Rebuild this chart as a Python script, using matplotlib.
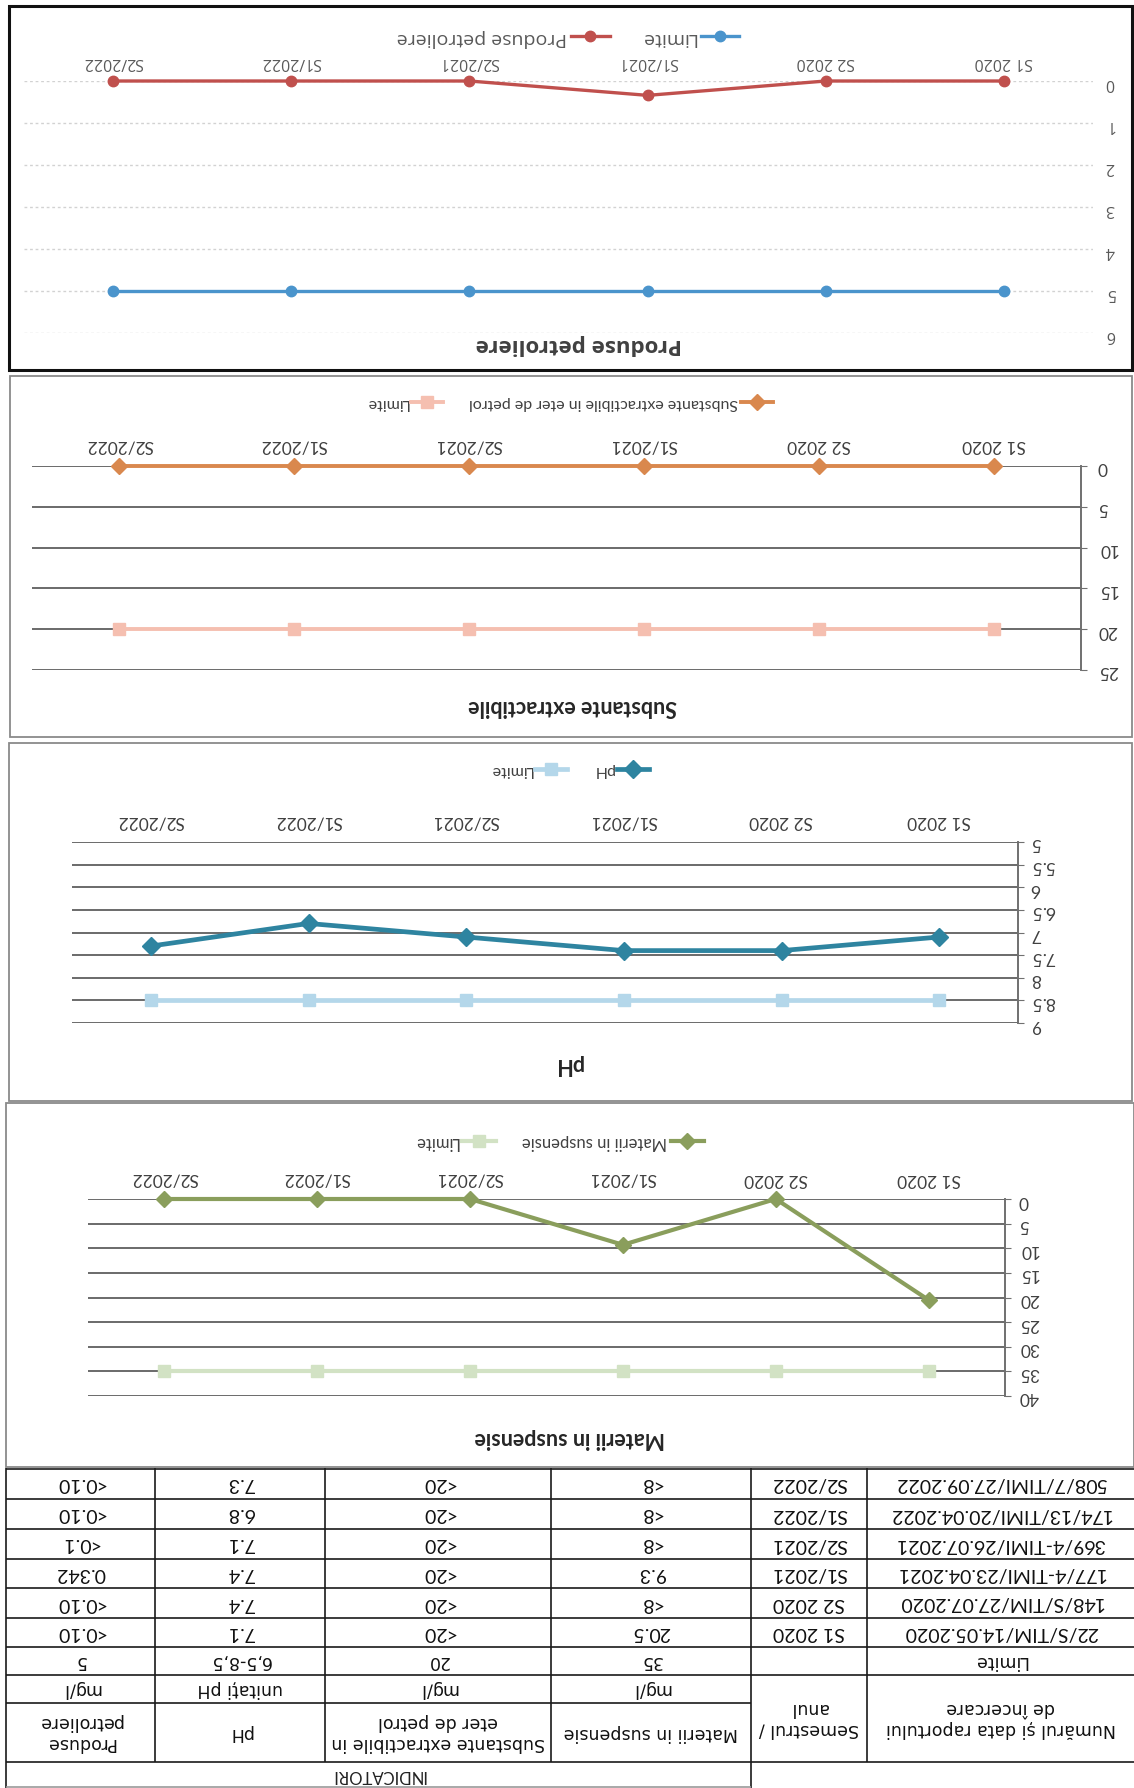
import matplotlib.pyplot as plt
from matplotlib.patches import Rectangle

W, H = 1134, 1788

categories = ['S1 2020', 'S2 2020', 'S1/2021', 'S2/2021', 'S1/2022', 'S2/2022']

produse = [0, 0, 0.342, 0, 0, 0]
produse_limita = [5, 5, 5, 5, 5, 5]
substante = [0, 0, 0, 0, 0, 0]
substante_limita = [20, 20, 20, 20, 20, 20]
ph = [7.1, 7.4, 7.4, 7.1, 6.8, 7.3]
ph_limita = [8.5, 8.5, 8.5, 8.5, 8.5, 8.5]
materii = [20.5, 0, 9.3, 0, 0, 0]
materii_limita = [35, 35, 35, 35, 35, 35]

# table of the scanned report
rapoarte = ['22/S/TIM/14.05.2020', '148/S/TIM/27.07.2020', '177/4-TIMI/23.04.2021',
            '369/4-TIMI/26.07.2021', '174/13/TIMI/20.04.2022', '508/7/TIMI/27.09.2022']
col_materii = ['20.5', '<8', '9.3', '<8', '<8', '<8']
col_substante = ['<20', '<20', '<20', '<20', '<20', '<20']
col_ph = ['7.1', '7.4', '7.4', '7.1', '6.8', '7.3']
col_produse = ['<0.10', '<0.10', '0.342', '<0.1', '<0.10', '<0.10']
indicatori = ['Materii in suspensie', 'Substante extractibile in\neter de petrol',
              'pH', 'Produse\npetroliere']
unitati = ['mg/l', 'mg/l', 'unitați pH', 'mg/l']
limite = ['35', '20', '6,5-8,5', '5']

plt.rcParams['font.family'] = ['Lato', 'DejaVu Sans']

fig = plt.figure(figsize=(W / 100, H / 100), dpi=100)


def px_rect(l, t, r, b):
    return [l / W, 1 - b / H, (r - l) / W, (b - t) / H]


def frame(l, t, r, b, color, lw):
    fig.add_artist(Rectangle((l / W, 1 - b / H), (r - l) / W, (b - t) / H,
                             transform=fig.transFigure, fill=False, ec=color, lw=lw, zorder=5))


def line_chart(box, values, limits, name, yticks, c_val, c_lim, m_val, m_lim, ms, lw,
               family, tick_size, legend_size, title_size, legend_xy, title_xy, lim_first,
               grid_kw, axis_line, xpad, ypad, tick_color, title_color):
    ax = fig.add_axes(px_rect(*box))
    ax.set_facecolor('none')
    x = list(range(len(categories)))
    h_val, = ax.plot(x, values, color=c_val, marker=m_val, ms=ms, lw=lw, label=name,
                     clip_on=False, zorder=4)
    h_lim, = ax.plot(x, limits, color=c_lim, marker=m_lim, ms=ms, lw=lw, label='Limite',
                     clip_on=False, zorder=3)
    # the scan is upside down: both axes reversed, all text turned 180 degrees
    ax.set_xlim(len(categories) - 0.5, -0.5)
    ax.set_ylim(yticks[-1], yticks[0])
    ax.set_xticks(x, categories)
    ax.set_yticks(yticks, [f'{t:g}' for t in yticks])
    ax.xaxis.tick_top()
    ax.yaxis.tick_right()
    ax.tick_params(labelrotation=180, labelsize=tick_size, labelcolor=tick_color,
                   labelfontfamily=family)
    ax.tick_params(axis='x', length=0, pad=xpad)
    ax.tick_params(axis='y', length=4 if axis_line else 0, pad=ypad, color='#707070')
    ax.grid(axis='y', **grid_kw)
    ax.set_axisbelow(True)
    for s in ax.spines.values():
        s.set_visible(False)
    if axis_line:
        ax.spines['right'].set_visible(True)
        ax.spines['right'].set_color('#707070')
        ax.spines['right'].set_linewidth(1.4)
    handles = [h_lim, h_val] if lim_first else [h_val, h_lim]
    leg = ax.legend(handles=handles, loc='center',
                    bbox_to_anchor=(legend_xy[0] / W, 1 - legend_xy[1] / H),
                    bbox_transform=fig.transFigure, ncol=2, frameon=False, markerfirst=False,
                    prop={'family': family, 'size': legend_size}, handlelength=2.0,
                    columnspacing=1.6, handletextpad=0.2)
    for t in leg.get_texts():
        t.set_rotation(180)
        t.set_color(tick_color)
    fig.text(title_xy[0] / W, 1 - title_xy[1] / H, name if title_xy[2] is None else title_xy[2],
             rotation=180, ha='center', va='center', family=family, fontsize=title_size,
             fontweight='bold', color=title_color)
    return ax


# panel frames
frame(9, 6, 1132, 370, '#111111', 2.2)
frame(10, 376, 1132, 737, '#8a8a8a', 1.3)
frame(9, 743, 1132, 1101, '#8a8a8a', 1.3)
frame(6, 1103, 1134, 1467, '#8a8a8a', 1.3)

dotted = dict(color='#d2d2d2', linestyle=(0, (2, 2)), linewidth=1)
solid = dict(color='#6a6a6a', linewidth=1.4)

line_chart((24, 81, 1093, 333), produse, produse_limita, 'Produse petroliere',
           [0, 1, 2, 3, 4, 5, 6], '#C0504D', '#4A94CC', 'o', 'o', 7.5, 2.4,
           'Open Sans', 11.5, 14, 16, (568, 38), (579, 345, None), False,
           dotted, False, 8, 9, '#595959', '#404040')

line_chart((32, 466, 1081, 670), substante, substante_limita,
           'Substante extractibile in eter de petrol', [0, 5, 10, 15, 20, 25],
           '#D9884E', '#F5BFB0', 'D', 's', 8, 2.8,
           'Lato', 12.5, 11.5, 15.5, (569, 403), (573, 707, 'Substante extractibile'), True,
           solid, True, 9, 8, '#404040', '#262626')

line_chart((72, 842, 1018, 1023), ph, ph_limita, 'pH',
           [5, 5.5, 6, 6.5, 7, 7.5, 8, 8.5, 9], '#2E84A0', '#B4D7EA', 'D', 's', 9, 3.4,
           'Lato', 12.5, 11.5, 15.5, (569, 770), (568, 1065, None), True,
           solid, True, 9, 5, '#404040', '#262626')

line_chart((88, 1199, 1005, 1396), materii, materii_limita, 'Materii in suspensie',
           [0, 5, 10, 15, 20, 25, 30, 35, 40], '#8A9E5C', '#D2E2C4', 'D', 's', 8, 3.0,
           'Lato', 12.5, 12, 15.5, (559, 1142), (570, 1438, None), True,
           solid, True, 9, 6, '#404040', '#262626')

# ---- table, drawn in the page's original (upright) coordinates, then reversed ----
col_edges = [0, 267, 383, 583, 809, 979, 1128]
row_edges = [0, 26, 85, 113, 141, 170, 200, 229, 259, 289, 320]

tb = fig.add_axes(px_rect(6, 1468, 1134, 1788))
tb.set_xlim(1128, 0)
tb.set_ylim(0, 320)
tb.axis('off')
lk = dict(color='#1a1a1a', lw=1.2, clip_on=False)
tb.vlines(col_edges[2], 0, 320, **lk)
tb.vlines(col_edges[-1], 0, 320, **lk)
tb.vlines([col_edges[1], col_edges[3], col_edges[4], col_edges[5]], 26, 320, **lk)
tb.hlines([26, 113, 141, 170, 200, 229, 259, 289, 319], 0, 1128, **lk)
tb.hlines(85, col_edges[2], 1128, **lk)
tb.hlines(1, col_edges[2], 1128, color='#9a9a9a', lw=1.2)

centers = [(col_edges[i] + col_edges[i + 1]) / 2 for i in range(6)]
hdr = dict(rotation=180, ha='center', va='center', family='DejaVu Sans', fontsize=12.5,
           color='#111111', linespacing=1.25)
dat = dict(rotation=180, ha='center', va='center', family='Lato', fontsize=14,
           color='#111111')

tb.text((col_edges[2] + col_edges[6]) / 2, 13, 'INDICATORI', rotation=180, ha='center',
        va='center', family='Lato', fontsize=12, color='#222222')
tb.text(centers[0], 69.5, 'Numărul și data raportului\nde încercare', **hdr)
tb.text(centers[1], 69.5, 'Semestrul /\nanul', **hdr)
for i in range(4):
    tb.text(centers[2 + i], 55.5, indicatori[i], **hdr)
    tb.text(centers[2 + i], 99, unitati[i], **hdr)
    tb.text(centers[2 + i], 127, limite[i], **hdr)
tb.text(centers[0], 127, 'Limite', **hdr)

for k in range(len(rapoarte)):
    v = (row_edges[4 + k] + row_edges[5 + k]) / 2
    row = [rapoarte[k], categories[k], col_materii[k], col_substante[k], col_ph[k],
           col_produse[k]]
    for i, s in enumerate(row):
        tb.text(centers[i], v, s, **dat)

fig.savefig('out.png', dpi=100, facecolor='white')
